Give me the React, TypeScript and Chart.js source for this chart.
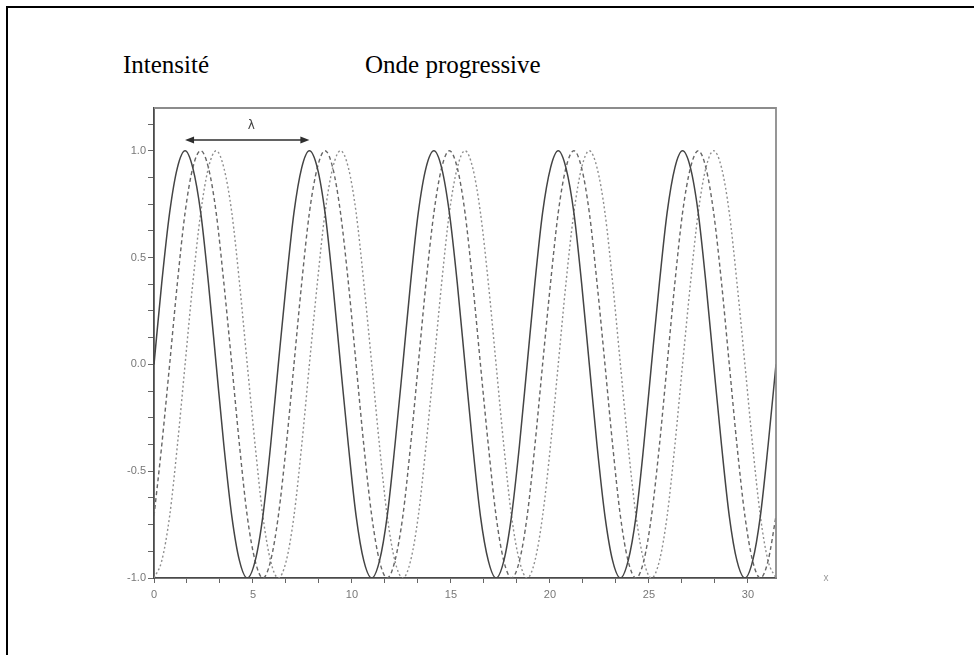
import React, { useEffect, useRef } from "react";
import { Chart, registerables } from "chart.js";

Chart.register(...registerables);

// sample positions along x (radians)
const xs = [
  0, 0.39, 0.79, 1.18, 1.57, 1.96, 2.36, 2.75, 3.14, 3.53, 3.93, 4.32, 4.71, 5.11, 5.5, 5.89,
  6.28, 6.68, 7.07, 7.46, 7.85, 8.25, 8.64, 9.03, 9.42, 9.82, 10.21, 10.6, 11.0, 11.39, 11.78, 12.17,
  12.57, 12.96, 13.35, 13.74, 14.14, 14.53, 14.92, 15.32, 15.71, 16.1, 16.49, 16.89, 17.28, 17.67, 18.06, 18.46,
  18.85, 19.24, 19.63, 20.03, 20.42, 20.81, 21.21, 21.6, 21.99, 22.38, 22.78, 23.17, 23.56, 23.95, 24.35, 24.74,
  25.13, 25.53, 25.92, 26.31, 26.7, 27.1, 27.49, 27.88, 28.27, 28.67, 29.06, 29.45, 29.85, 30.24, 30.63, 31.02,
  31.42,
];

const solidWave = [
  0, 0.38, 0.71, 0.92, 1, 0.92, 0.71, 0.38, 0, -0.38, -0.71, -0.92, -1, -0.92, -0.71, -0.38,
  0, 0.38, 0.71, 0.92, 1, 0.92, 0.71, 0.38, 0, -0.38, -0.71, -0.92, -1, -0.92, -0.71, -0.38,
  0, 0.38, 0.71, 0.92, 1, 0.92, 0.71, 0.38, 0, -0.38, -0.71, -0.92, -1, -0.92, -0.71, -0.38,
  0, 0.38, 0.71, 0.92, 1, 0.92, 0.71, 0.38, 0, -0.38, -0.71, -0.92, -1, -0.92, -0.71, -0.38,
  0, 0.38, 0.71, 0.92, 1, 0.92, 0.71, 0.38, 0, -0.38, -0.71, -0.92, -1, -0.92, -0.71, -0.38,
  0,
];

const dashedWave = [
  -0.71, -0.38, 0, 0.38, 0.71, 0.92, 1, 0.92, 0.71, 0.38, 0, -0.38, -0.71, -0.92, -1, -0.92,
  -0.71, -0.38, 0, 0.38, 0.71, 0.92, 1, 0.92, 0.71, 0.38, 0, -0.38, -0.71, -0.92, -1, -0.92,
  -0.71, -0.38, 0, 0.38, 0.71, 0.92, 1, 0.92, 0.71, 0.38, 0, -0.38, -0.71, -0.92, -1, -0.92,
  -0.71, -0.38, 0, 0.38, 0.71, 0.92, 1, 0.92, 0.71, 0.38, 0, -0.38, -0.71, -0.92, -1, -0.92,
  -0.71, -0.38, 0, 0.38, 0.71, 0.92, 1, 0.92, 0.71, 0.38, 0, -0.38, -0.71, -0.92, -1, -0.92,
  -0.71,
];

const dottedWave = [
  -1, -0.92, -0.71, -0.38, 0, 0.38, 0.71, 0.92, 1, 0.92, 0.71, 0.38, 0, -0.38, -0.71, -0.92,
  -1, -0.92, -0.71, -0.38, 0, 0.38, 0.71, 0.92, 1, 0.92, 0.71, 0.38, 0, -0.38, -0.71, -0.92,
  -1, -0.92, -0.71, -0.38, 0, 0.38, 0.71, 0.92, 1, 0.92, 0.71, 0.38, 0, -0.38, -0.71, -0.92,
  -1, -0.92, -0.71, -0.38, 0, 0.38, 0.71, 0.92, 1, 0.92, 0.71, 0.38, 0, -0.38, -0.71, -0.92,
  -1, -0.92, -0.71, -0.38, 0, 0.38, 0.71, 0.92, 1, 0.92, 0.71, 0.38, 0, -0.38, -0.71, -0.92,
  -1,
];

const xTickLabels = ["0", "5", "10", "15", "20", "25", "30"];
const yTickLabels = ["-1.0", "-0.5", "0.0", "0.5", "1.0"];

// wavelength annotation: from one crest to the next
const lambdaSpan = [1.57, 7.85];
const lambdaLevel = 1.05;
const lambdaText = "λ";
const xAxisName = "x";

const titleLeft = "Intensité";
const titleMain = "Onde progressive";

const toPoints = (ys: number[]) => xs.map((x, i) => ({ x, y: ys[i] }));

const findLabel = (labels: string[], v: number) => {
  for (const l of labels) {
    if (Math.abs(parseFloat(l) - v) < 1e-6) return l;
  }
  return "";
};

const decorPlugin = {
  id: "decor",
  afterDraw(chart: any) {
    const { ctx, chartArea: a, scales } = chart;
    const xS = scales.x;
    const yS = scales.y;
    ctx.save();
    // frame top & right
    ctx.strokeStyle = "#8c8c8c";
    ctx.lineWidth = 1.8;
    ctx.beginPath();
    ctx.moveTo(a.left, a.top);
    ctx.lineTo(a.right, a.top);
    ctx.lineTo(a.right, a.bottom);
    ctx.stroke();

    // lambda arrow
    const x1 = xS.getPixelForValue(lambdaSpan[0]);
    const x2 = xS.getPixelForValue(lambdaSpan[1]);
    const y = yS.getPixelForValue(lambdaLevel);
    ctx.strokeStyle = "#2e2e2e";
    ctx.fillStyle = "#2e2e2e";
    ctx.lineWidth = 1.6;
    ctx.beginPath();
    ctx.moveTo(x1 + 6, y);
    ctx.lineTo(x2 - 6, y);
    ctx.stroke();
    ctx.beginPath();
    ctx.moveTo(x1, y);
    ctx.lineTo(x1 + 9, y - 3.5);
    ctx.lineTo(x1 + 9, y + 3.5);
    ctx.closePath();
    ctx.fill();
    ctx.beginPath();
    ctx.moveTo(x2, y);
    ctx.lineTo(x2 - 9, y - 3.5);
    ctx.lineTo(x2 - 9, y + 3.5);
    ctx.closePath();
    ctx.fill();
    ctx.fillStyle = "#444";
    ctx.font = '12px "DejaVu Sans"';
    ctx.textAlign = "center";
    ctx.textBaseline = "middle";
    ctx.fillText(lambdaText, (x1 + x2) / 2 + 4, y - 14);

    // x axis name
    ctx.fillStyle = "#9a9a9a";
    ctx.font = '10px "Liberation Sans"';
    ctx.fillText(xAxisName, a.right + 50, a.bottom);
    ctx.restore();
  },
};

export default function App() {
  const canvasRef = useRef<HTMLCanvasElement | null>(null);

  useEffect(() => {
    if (!canvasRef.current) return;
    const tickFont = { family: '"Liberation Sans", Arial, sans-serif', size: 11 };
    const chart = new Chart(canvasRef.current, {
      type: "line",
      data: {
        datasets: [
          {
            data: toPoints(solidWave),
            borderColor: "#444444",
            borderWidth: 1.5,
            pointRadius: 0,
            fill: false,
            cubicInterpolationMode: "monotone",
          },
          {
            data: toPoints(dashedWave),
            borderColor: "#666666",
            borderWidth: 1.4,
            borderDash: [4, 3],
            pointRadius: 0,
            fill: false,
            cubicInterpolationMode: "monotone",
          },
          {
            data: toPoints(dottedWave),
            borderColor: "#8e8e8e",
            borderWidth: 1.4,
            borderDash: [2, 2.5],
            pointRadius: 0,
            fill: false,
            cubicInterpolationMode: "monotone",
          },
        ],
      },
      options: {
        animation: false,
        responsive: false,
        layout: { padding: { left: 104, top: 108, right: 198, bottom: 47 } },
        plugins: {
          legend: { display: false },
          tooltip: { enabled: false },
          title: { display: false },
        },
        scales: {
          x: {
            type: "linear",
            min: 0,
            max: 31.42,
            position: "bottom",
            afterFit: (s: any) => {
              s.height = 30;
            },
            border: { display: true, color: "#4a4a4a", width: 1.8 },
            grid: {
              display: true,
              drawOnChartArea: false,
              drawTicks: true,
              tickLength: 5,
              color: "#666",
              lineWidth: 1,
            },
            ticks: {
              stepSize: 5 / 3,
              includeBounds: false,
              autoSkip: false,
              maxRotation: 0,
              padding: 5,
              color: "#777",
              font: tickFont,
              callback: (v: any) => findLabel(xTickLabels, Number(v)),
            },
          },
          y: {
            type: "linear",
            min: -1,
            max: 1.2,
            afterFit: (s: any) => {
              s.width = 50;
            },
            border: { display: true, color: "#4a4a4a", width: 1.8 },
            grid: {
              display: true,
              drawOnChartArea: false,
              drawTicks: true,
              tickLength: 6,
              color: "#666",
              lineWidth: 1,
            },
            ticks: {
              stepSize: 0.125,
              includeBounds: false,
              autoSkip: false,
              padding: 2,
              color: "#777",
              font: tickFont,
              callback: (v: any) => findLabel(yTickLabels, Number(v)),
            },
          },
        },
      },
      plugins: [decorPlugin],
    } as any);
    return () => chart.destroy();
  }, []);

  const titleStyle: React.CSSProperties = {
    position: "absolute",
    top: 52,
    fontFamily: '"Liberation Serif", "Times New Roman", serif',
    fontSize: 25,
    lineHeight: "25px",
    color: "#000",
    whiteSpace: "nowrap",
  };

  return (
    <div
      style={{
        position: "absolute",
        left: 0,
        top: 0,
        width: 974,
        height: 655,
        background: "#fff",
        overflow: "hidden",
      }}
    >
      <div
        style={{
          position: "absolute",
          left: 6,
          top: 6,
          width: 980,
          height: 700,
          borderTop: "2px solid #000",
          borderLeft: "2px solid #000",
        }}
      />
      <div style={{ ...titleStyle, left: 123 }}>{titleLeft}</div>
      <div style={{ ...titleStyle, left: 365 }}>{titleMain}</div>
      <canvas
        ref={canvasRef}
        width={974}
        height={655}
        style={{ position: "absolute", left: 0, top: 0 }}
      />
    </div>
  );
}
